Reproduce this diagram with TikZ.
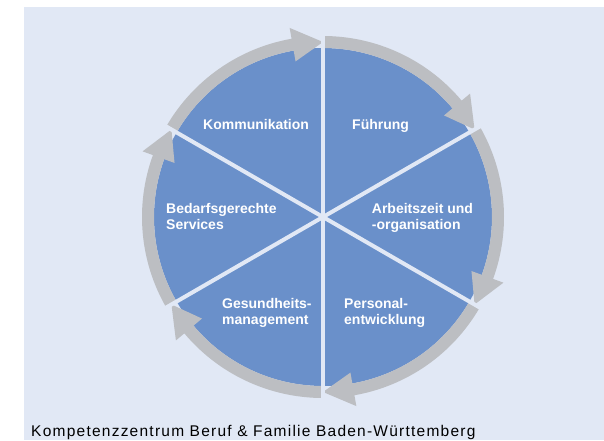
\documentclass[tikz,border=0pt]{standalone}
\usepackage{fontspec}
\setmainfont{Liberation Sans}
\newfontfamily\srcfont[LetterSpace=8]{Liberation Sans}
\definecolor{bgblue}{RGB}{225,232,245}
\definecolor{pieblue}{RGB}{106,144,202}
\definecolor{ringgray}{RGB}{188,190,194}

\begin{document}
\begin{tikzpicture}[x=1pt,y=1pt,
    sector/.style={fill=pieblue},
    ring/.style={fill=ringgray},
    cut/.style={draw=bgblue,line width=4pt},
    lbl/.style={anchor=base west,inner sep=0pt,align=left,text=white,
        font=\bfseries\fontsize{14}{16.5}\selectfont}]
    \useasboundingbox (-323,-223) rectangle (281,217);
    \fill[bgblue] (-299,210) rectangle (281,-223);
    \foreach \a in {90,30,...,-210}
        \fill[sector] (0,0) -- (\a:169) arc[start angle=\a,end angle=\a-60,radius=169] -- cycle;
    \foreach \a in {90,30,...,-210}
        \fill[ring] (\a:169) arc[start angle=\a,end angle=\a-50,radius=169]
            -- (\a-50:158) -- (\a-60:175) -- (\a-50:192) -- (\a-50:181)
            arc[start angle=\a-50,end angle=\a,radius=181] -- cycle;
    \foreach \a in {90,30,150}
        \draw[cut] (\a:186) -- (\a+180:186);
    \node[lbl] (komm) at (-120,88) {Kommunikation};
    \node[lbl] (fuehr) at (29,88) {Führung};
    \node[lbl] (bedarf) at (-157,-12.8) {Bedarfsgerechte\\Services};
    \node[lbl] (arbeit) at (48.7,-12.8) {Arbeitszeit und\\-organisation};
    \node[lbl] (gesund) at (-101,-107.8) {Gesundheits-\\management};
    \node[lbl] (person) at (21,-107.8) {Personal-\\entwicklung};
    \node[anchor=base west,inner sep=0pt,font=\srcfont\fontsize{15.5}{18}\selectfont]
        (quelle) at (-292,-219) {Kompetenzzentrum Beruf \& Familie Baden-Württemberg};
\end{tikzpicture}
\end{document}
